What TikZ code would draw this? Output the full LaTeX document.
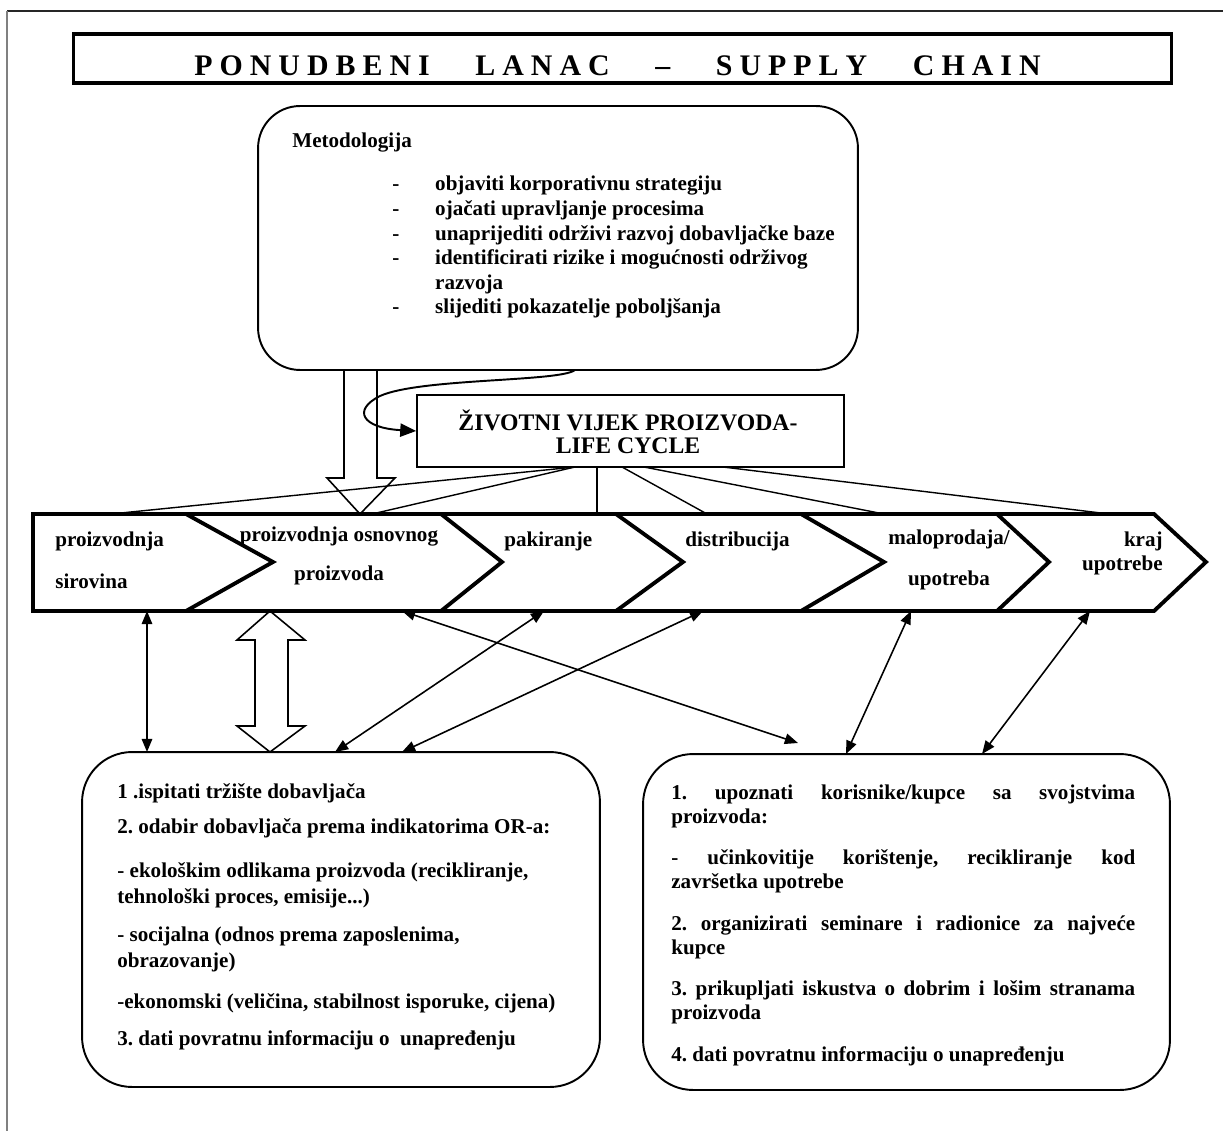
\documentclass[tikz,border=0pt]{standalone}
\usepackage{fontspec}
\setmainfont{Liberation Serif}
\usetikzlibrary{arrows.meta,calc}
\frenchspacing
\makeatletter
\newcommand\lsword[1]{\@tfor\ch:=#1\do{\ch\hspace{4pt}}}
\makeatother
\newcommand\rowsl[1]{\begin{tabular}[t]{@{}l@{}}#1\end{tabular}}
\newcommand\rowsc[1]{\begin{tabular}[t]{@{}c@{}}#1\end{tabular}}
\newcommand\rowsr[1]{\begin{tabular}[t]{@{}r@{}}#1\end{tabular}}
\newcommand\jl[1]{\makebox[9.28cm][s]{#1}}
\tikzset{
  txt/.style={inner sep=0pt, font=\fontsize{12}{14.2}\selectfont\bfseries},
  box/.style={draw, line width=1.1pt, inner sep=0pt},
  fan/.style={line width=0.8pt},
  dbl/.style={line width=0.9pt, {Triangle[length=7.5pt,width=6pt]}-{Triangle[length=7.5pt,width=6pt]}},
  hollow/.style={line width=0.9pt, line join=miter},
  chev/.style={line width=2.2pt, line join=miter}
}
\begin{document}
\begin{tikzpicture}[x=0.02cm,y=-0.02cm]
\useasboundingbox (0,0) rectangle (1223,1131);
% page border
\draw[line width=0.8pt, black!85] (7,11) -- (1223,11);
\draw[line width=1.1pt, black!50] (7,11) -- (7,1131);

% title
\node[draw, line width=1.8pt, minimum width=21.98cm, minimum height=0.98cm, inner sep=0pt] (title) at (622.5,58.5) {};
\node[inner sep=0pt, anchor=base, font=\fontsize{17}{20}\selectfont\bfseries] (titletext) at (621,76)
  {\lsword{PONUDBENI}\hspace{22pt}\lsword{LANAC}\hspace{22pt}–\hspace{26pt}\lsword{SUPPLY}\hspace{22pt}\lsword{CHAIN}\hspace{-4pt}};

% methodology box
\node[box, rounded corners=0.84cm, minimum width=12cm, minimum height=5.28cm] (meth) at (558,238) {};
\node[txt, anchor=base west] (methhead) at (292,148) {Metodologija};
\node[txt, anchor=base west] (methlist) at (392,191) {\rowsl{%
\makebox[24.4pt][l]{-}objaviti korporativnu strategiju\\[-0.2pt]
\makebox[24.4pt][l]{-}ojačati upravljanje procesima\\[-0.2pt]
\makebox[24.4pt][l]{-}unaprijediti održivi razvoj dobavljačke baze\\[-0.2pt]
\makebox[24.4pt][l]{-}identificirati rizike i mogućnosti održivog\\[-0.2pt]
\hspace*{24.4pt}razvoja\\[-0.2pt]
\makebox[24.4pt][l]{-}slijediti pokazatelje poboljšanja}};

% life cycle box
\node[box, minimum width=8.54cm, minimum height=1.44cm] (lc) at (630.5,431) {};
\node[inner sep=0pt, anchor=base, font=\fontsize{13.5}{12.5}\selectfont\bfseries] (lctext) at (628,431)
  {\rowsc{ŽIVOTNI VIJEK PROIZVODA-\\LIFE CYCLE}};

% fan lines
\coordinate (lcA) at (575,467);
\coordinate (lcB) at (597,467);
\coordinate (lcC) at (622,467);
\coordinate (lcD) at (644,467);
\coordinate (lcE) at (723,467);
\coordinate (f1) at (111,514);
\coordinate (f2) at (372,514);
\coordinate (f3) at (597,514);
\coordinate (f4) at (707,514);
\coordinate (f5) at (884,514);
\coordinate (f6) at (1109,514);
\draw[fan] (lcA) -- (f1);
\draw[fan] (lcA) -- (f2);
\draw[fan] (lcB) -- (f3);
\draw[fan] (lcC) -- (f4);
\draw[fan] (lcD) -- (f5);
\draw[fan] (lcE) -- (f6);

% hollow arrow down from methodology
\draw[hollow] (344,370) -- (344,478) -- (327,478) -- (360,514) -- (395,478) -- (377,478) -- (377,370);

% curved arrow
\coordinate (mc) at (575,370);
\draw[line width=1.1pt, -{Triangle[length=9pt,width=7.5pt]}] (mc) .. controls (560,382) and (420,378) .. (380,396) .. controls (352,410) and (362,428) .. (lc.west);

% chevron row
\draw[chev] (33,514) -- (1154,514) -- (1206,562) -- (1154,611) -- (33,611) -- cycle;
\draw[chev] (186,514) -- (273,562) -- (186,611);
\draw[chev] (441,514) -- (502,562) -- (441,611);
\draw[chev] (616,514) -- (683,562) -- (616,611);
\draw[chev] (801,514) -- (884,562) -- (801,611);
\draw[chev] (997,514) -- (1049,562) -- (997,611);

\node[txt, anchor=base west] (l1) at (55,546) {\rowsl{proizvodnja\\[10pt]sirovina}};
\node[txt, anchor=base] (l2) at (339,541) {\rowsc{proizvodnja osnovnog\\[8.5pt]proizvoda}};
\node[txt, anchor=base west] (l3) at (504,546) {pakiranje};
\node[txt, anchor=base west] (l4) at (685,546) {distribucija};
\node[txt, anchor=base] (l5) at (949,544) {\rowsc{maloprodaja/\\[9.6pt]upotreba}};
\node[txt, anchor=base east] (l6) at (1163,546) {\rowsr{kraj\\upotrebe}};

% bottom boxes
\node[box, rounded corners=1cm, minimum width=10.36cm, minimum height=6.7cm] (bl) at (341,919.5) {};
\node[box, rounded corners=1cm, minimum width=10.54cm, minimum height=6.72cm] (br) at (906.5,922) {};

\node[txt, anchor=base west, font=\fontsize{12}{14.5}\selectfont\bfseries] (bltext) at (117,798) {\rowsl{%
1 .ispitati tržište dobavljača\\[5.9pt]
2. odabir dobavljača prema indikatorima OR-a:\\[10.4pt]
- ekološkim odlikama proizvoda (recikliranje,\\
tehnološki proces, emisije...)\\[7.6pt]
- socijalna (odnos prema zaposlenima,\\
obrazovanje)\\[8.7pt]
-ekonomski (veličina, stabilnost isporuke, cijena)\\[6.5pt]
3. dati povratnu informaciju o \ unapređenju}};

\node[txt, anchor=base west, font=\fontsize{12}{13.75}\selectfont\bfseries] (brtext) at (671,799) {\rowsl{%
\jl{1. upoznati korisnike/kupce sa svojstvima}\\
proizvoda:\\[9.8pt]
\jl{- učinkovitije korištenje, recikliranje kod}\\
završetka upotrebe\\[9.8pt]
\jl{2. organizirati seminare i radionice za najveće}\\
kupce\\[9.8pt]
\jl{3. prikupljati iskustva o dobrim i lošim stranama}\\
proizvoda\\[9.8pt]
4. dati povratnu informaciju o unapređenju}};

% hollow double arrow
\draw[hollow] (270,611) -- (305,640) -- (288,640) -- (288,726) -- (305,726) -- (270,752)
   -- (237,726) -- (255,726) -- (255,640) -- (237,640) -- cycle;

% connector arrows
\coordinate (r1) at (147,611);   \coordinate (b1) at (147,752);
\coordinate (r2) at (402,611);   \coordinate (b2) at (798,743);
\coordinate (r3) at (544,611);   \coordinate (b3) at (335,752);
\coordinate (r4) at (703,611);   \coordinate (b4) at (402,752);
\coordinate (r5) at (911,611);   \coordinate (b5) at (846,754);
\coordinate (r6) at (1090,611);  \coordinate (b6) at (982,754);
\draw[dbl] (r1) -- (b1);
\draw[dbl] (r2) -- (b2);
\draw[dbl] (r3) -- (b3);
\draw[dbl] (r4) -- (b4);
\draw[dbl] (r5) -- (b5);
\draw[dbl] (r6) -- (b6);
\end{tikzpicture}
\end{document}
